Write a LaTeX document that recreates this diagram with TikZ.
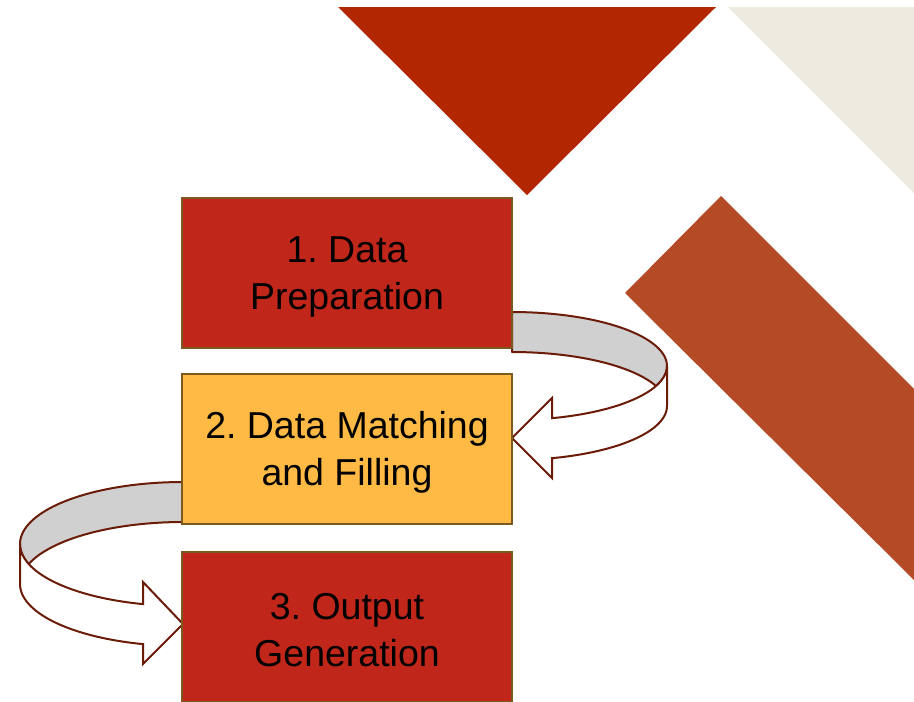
\documentclass[tikz,border=0pt]{standalone}
\usepackage{fontspec}
\setmainfont{Liberation Sans}
\frenchspacing
\definecolor{trired}{HTML}{B22600}
\definecolor{beigec}{HTML}{EDEAE0}
\definecolor{bandc}{HTML}{B54A26}
\definecolor{boxred}{HTML}{C0271A}
\definecolor{boxyel}{HTML}{FFBA45}
\definecolor{boxline}{HTML}{7A5A1E}
\definecolor{arrline}{HTML}{6B1C08}
\definecolor{ribgray}{HTML}{D0D0D0}
\begin{document}
\begin{tikzpicture}[x=1pt,y=-1pt,
  stepbox/.style={draw=boxline, line width=2pt, minimum width=330pt, minimum height=150pt, inner sep=0pt},
  steptext/.style={align=center, text=black, font=\fontsize{37.5}{47}\selectfont, inner sep=0pt},
  ribback/.style={fill=ribgray, draw=arrline, line width=2pt, line join=round},
  ribfront/.style={fill=white, draw=arrline, line width=2pt, line join=miter}]
\useasboundingbox (0,0) rectangle (914,702);
\fill[white] (0,0) rectangle (914,702);
% decorative shapes
\fill[trired] (338,7) -- (716,7) -- (527,195) -- cycle;
\fill[beigec] (728,7) -- (914,7) -- (914,193) -- cycle;
\fill[bandc] (721,196) -- (914,389) -- (914,580) -- (625,293) -- cycle;
% arrow 1 (right side, from box 1 to box 2)
\path[ribback] plot[domain=90:0,samples=40] ({512+155*cos(\x)},{366-54*sin(\x)})
  -- plot[domain=0:21.74,samples=10] ({512+155*cos(\x)},{366+54*sin(\x)})
  -- plot[domain=21.74:90,samples=30] ({512+155*cos(\x)},{406-54*sin(\x)}) -- cycle;
\path[ribfront] plot[domain=0:75.04,samples=40] ({512+155*cos(\x)},{366+54*sin(\x)})
  -- (552,398) -- (512,438) -- (552,478)
  -- plot[domain=75.04:0,samples=40] ({512+155*cos(\x)},{406+54*sin(\x)}) -- cycle;
% arrow 2 (left side, from box 2 to box 3)
\path[ribback] plot[domain=90:0,samples=40] ({183-163*cos(\x)},{544-62*sin(\x)})
  -- plot[domain=0:18.83,samples=10] ({183-163*cos(\x)},{544+62*sin(\x)})
  -- plot[domain=18.83:90,samples=30] ({183-163*cos(\x)},{584-62*sin(\x)}) -- cycle;
\path[ribfront] plot[domain=0:75.8,samples=40] ({183-163*cos(\x)},{544+62*sin(\x)})
  -- (143,582) -- (183,624) -- (143,664)
  -- plot[domain=75.8:0,samples=40] ({183-163*cos(\x)},{584+62*sin(\x)}) -- cycle;
% boxes
\node[stepbox, fill=boxred] (b1) at (347,272.5) {};
\node[stepbox, fill=boxyel] (b2) at (347,449) {};
\node[stepbox, fill=boxred] (b3) at (347,626.5) {};
\node[steptext] (t1) at ([yshift=-4pt]b1.center) {1. Data\\Preparation};
\node[steptext] (t2) at ([yshift=-3pt]b2.center) {2. Data Matching\\and Filling};
\node[steptext] (t3) at ([yshift=-4pt]b3.center) {3. Output\\Generation};
\end{tikzpicture}
\end{document}
